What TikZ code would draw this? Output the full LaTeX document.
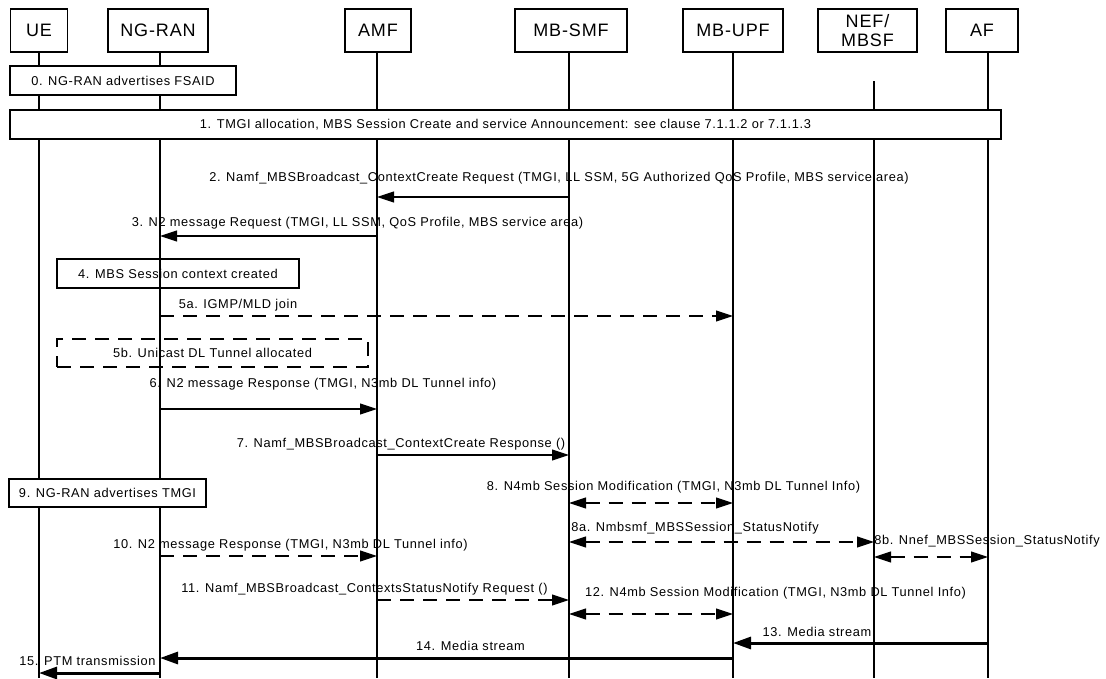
\documentclass[tikz,border=0pt]{standalone}
\usepackage{fontspec}
\setmainfont{Liberation Sans}[LetterSpace=5]
\usetikzlibrary{arrows.meta}

\tikzset{
  entity/.style={draw, line width=1.1pt, minimum height=43pt, inner sep=0pt, align=center, font=\fontsize{18}{19}\selectfont},
  notebox/.style={draw, line width=1.1pt, inner sep=0pt, minimum height=29pt, font=\fontsize{12.8}{14}\selectfont},
  lbl/.style={inner sep=0pt, font=\fontsize{12.8}{14}\selectfont},
  life/.style={line width=1.1pt},
  msg/.style={line width=1.1pt, -{Triangle[length=17pt,width=11pt]}},
  dmsg/.style={msg, dash pattern=on 14pt off 9pt},
  bothway/.style={dmsg, {Triangle[length=17pt,width=11pt]}-{Triangle[length=17pt,width=11pt]}},
  media/.style={line width=3pt, -{Triangle[length=18pt,width=12pt]}}
}

\begin{document}
\begin{tikzpicture}[x=1pt, y=-1pt]
  \useasboundingbox (0,0) rectangle (1106,678);

  % entities
  \node[entity, minimum width=57pt] (ue) at (39,30.5) {UE};
  \node[entity, minimum width=100pt] (ran) at (158,30.5) {NG-RAN};
  \node[entity, minimum width=66pt] (amf) at (378,30.5) {AMF};
  \node[entity, minimum width=112pt] (smf) at (571,30.5) {MB-SMF};
  \node[entity, minimum width=100pt] (upf) at (733,30.5) {MB-UPF};
  \node[entity, minimum width=99pt] (nef) at (867.5,30.5) {NEF/\\MBSF};
  \node[entity, minimum width=72pt] (af) at (982,30.5) {AF};

  % lifelines
  \foreach \n/\x/\y in {lue/39/52, lran/160/52, lamf/377/52, lsmf/569/52, lupf/733/52, lnef/874/81, laf/988/52} {
    \coordinate (\n) at (\x,\y);
    \coordinate (\n-end) at (\x,678);
    \draw[life] (\n) -- (\n-end);
  }

  % steps
  \node[notebox, fill=white, minimum width=226pt] (s0) at (123,80.5) {0. NG-RAN advertises FSAID};
  \node[notebox, fill=white, minimum width=991pt] (s1) at (505.5,124.5) {1. TMGI allocation, MBS Session Create and service Announcement: see clause 7.1.1.2 or 7.1.1.3};
  \node[notebox, minimum width=242pt] (s4) at (178,273.5) {4. MBS Session context created};
  \node[notebox, dash pattern=on 14pt off 9pt, minimum width=311pt, minimum height=28pt] (s5b) at (212.5,353) {5b. Unicast DL Tunnel allocated};
  \node[notebox, fill=white, minimum width=197pt, minimum height=28pt] (s9) at (107.5,493) {9. NG-RAN advertises TMGI};

  % messages
  \node[lbl] (m2) at (559,178) {2. Namf\_MBSBroadcast\_ContextCreate Request (TMGI, LL SSM, 5G Authorized QoS Profile, MBS service area)};
  \draw[msg] (lsmf |- 0,197) -- (lamf |- 0,197);

  \node[lbl] (m3) at (357.5,223) {3. N2 message Request (TMGI, LL SSM, QoS Profile, MBS service area)};
  \draw[msg] (lamf |- 0,236) -- (lran |- 0,236);

  \node[lbl] (m5a) at (238,305) {5a. IGMP/MLD join};
  \draw[dmsg] (lran |- 0,316) -- (lupf |- 0,316);

  \node[lbl] (m6) at (323,384) {6. N2 message Response (TMGI, N3mb DL Tunnel info)};
  \draw[msg] (lran |- 0,409) -- (lamf |- 0,409);

  \node[lbl] (m7) at (401,444) {7. Namf\_MBSBroadcast\_ContextCreate Response ()};
  \draw[msg] (lamf |- 0,455) -- (lsmf |- 0,455);

  \node[lbl] (m8) at (673.5,487) {8. N4mb Session Modification (TMGI, N3mb DL Tunnel Info)};
  \draw[bothway] (lsmf |- 0,503) -- (lupf |- 0,503);

  \node[lbl] (m8a) at (695,528) {8a. Nmbsmf\_MBSSession\_StatusNotify};
  \draw[bothway] (lsmf |- 0,542) -- (lnef |- 0,542);

  \node[lbl] (m8b) at (987,541) {8b. Nnef\_MBSSession\_StatusNotify};
  \draw[bothway] (lnef |- 0,557) -- (laf |- 0,557);

  \node[lbl] (m10) at (290.5,545) {10. N2 message Response (TMGI, N3mb DL Tunnel info)};
  \draw[dmsg] (lran |- 0,556) -- (lamf |- 0,556);

  \node[lbl] (m11) at (364.5,589) {11. Namf\_MBSBroadcast\_ContextsStatusNotify Request ()};
  \draw[dmsg] (lamf |- 0,600) -- (lsmf |- 0,600);

  \node[lbl] (m12) at (775.5,593) {12. N4mb Session Modification (TMGI, N3mb DL Tunnel Info)};
  \draw[bothway] (lsmf |- 0,614) -- (lupf |- 0,614);

  \node[lbl] (m13) at (817,632) {13. Media stream};
  \draw[media] (laf |- 0,643) -- (lupf |- 0,643);

  \node[lbl] (m14) at (470.5,646) {14. Media stream};
  \draw[media] (lupf |- 0,658) -- (lran |- 0,658);

  \node[lbl] (m15) at (87.5,661) {15. PTM transmission};
  \draw[media] (lran |- 0,673) -- (lue |- 0,673);
\end{tikzpicture}
\end{document}
